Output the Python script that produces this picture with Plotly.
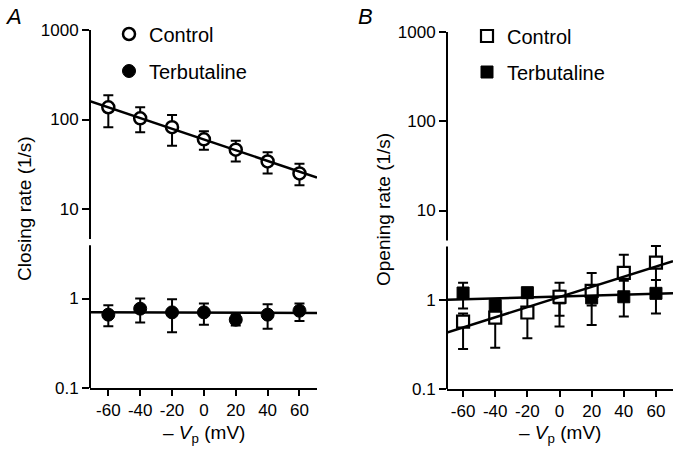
import plotly.graph_objects as go

W, H = 675, 451

# ---------------- data ----------------
vp = [-60, -40, -20, 0, 20, 40, 60]
tick_vals_x = [-60, -40, -20, 0, 20, 40, 60]
tick_text_x = ["-60", "-40", "-20", "0", "20", "40", "60"]
tick_vals_y = [0.1, 1, 10, 100, 1000]
tick_text_y = ["0.1", "1", "10", "100", "1000"]

# Panel A: closing rate
a_ctrl = [137, 103, 82, 60, 46, 34, 25]
a_ctrl_hi = [187, 137, 112, 74, 58, 43, 32]
a_ctrl_lo = [82, 72, 51, 46, 34, 25, 18.4]
a_terb = [0.66, 0.77, 0.70, 0.70, 0.58, 0.66, 0.73]
a_terb_hi = [0.84, 1.0, 0.98, 0.88, 0.66, 0.86, 0.88]
a_terb_lo = [0.49, 0.54, 0.42, 0.51, 0.50, 0.46, 0.56]
a_ctrl_fit_x = [-71.5, 71]
a_ctrl_fit_y = [160, 22.5]
a_terb_fit_x = [-71.5, 71]
a_terb_fit_y = [0.70, 0.69]

# Panel B: opening rate
b_ctrl = [0.57, 0.63, 0.72, 1.08, 1.26, 2.0, 2.6]
b_ctrl_hi = [0.70, 0.97, 1.07, 1.55, 2.0, 3.2, 4.0]
b_ctrl_lo = [0.28, 0.29, 0.37, 0.50, 0.52, 1.0, 1.2]
b_terb = [1.19, 0.86, 1.2, 1.05, 1.05, 1.08, 1.18]
b_terb_hi = [1.55, 0.92, 1.3, 1.26, 1.24, 1.63, 1.66]
b_terb_lo = [0.80, 0.80, 1.1, 0.66, 0.86, 0.65, 0.70]
b_ctrl_fit_x = [-70, 70.6]
b_ctrl_fit_y = [0.43, 2.7]
b_terb_fit_x = [-70, 70.6]
b_terb_fit_y = [1.0, 1.18]

FONT = "Liberation Sans, Arial, Helvetica, sans-serif"


def err(vals, hi, lo):
    return dict(type="data", symmetric=False,
                array=[h - v for v, h in zip(vals, hi)],
                arrayminus=[v - l for v, l in zip(vals, lo)],
                color="black", thickness=2, width=5)


fig = go.Figure()

# ---- panel A ----
fig.add_trace(go.Scatter(x=a_terb_fit_x, y=a_terb_fit_y, mode="lines",
                         line=dict(color="black", width=2.5), showlegend=False,
                         xaxis="x", yaxis="y"))
fig.add_trace(go.Scatter(x=vp, y=a_terb, mode="markers", name="Terbutaline",
                         marker=dict(symbol="circle", size=13, color="black",
                                     line=dict(color="black", width=1)),
                         error_y=err(a_terb, a_terb_hi, a_terb_lo),
                         xaxis="x", yaxis="y", legend="legend2"))
fig.add_trace(go.Scatter(x=vp, y=a_ctrl, mode="markers", name="Control",
                         marker=dict(symbol="circle", size=12, color="white",
                                     line=dict(color="black", width=2.5)),
                         error_y=err(a_ctrl, a_ctrl_hi, a_ctrl_lo),
                         xaxis="x", yaxis="y", legend="legend"))
fig.add_trace(go.Scatter(x=a_ctrl_fit_x, y=a_ctrl_fit_y, mode="lines",
                         line=dict(color="black", width=2.5), showlegend=False,
                         xaxis="x", yaxis="y"))

# ---- panel B ----
fig.add_trace(go.Scatter(x=vp, y=b_terb, mode="markers", name="Terbutaline",
                         marker=dict(symbol="square", size=12, color="black",
                                     line=dict(color="black", width=1)),
                         error_y=err(b_terb, b_terb_hi, b_terb_lo),
                         xaxis="x2", yaxis="y2", legend="legend4"))
fig.add_trace(go.Scatter(x=vp, y=b_ctrl, mode="markers", name="Control",
                         marker=dict(symbol="square", size=12, color="white",
                                     line=dict(color="black", width=2.2)),
                         error_y=err(b_ctrl, b_ctrl_hi, b_ctrl_lo),
                         xaxis="x2", yaxis="y2", legend="legend3"))
fig.add_trace(go.Scatter(x=b_terb_fit_x, y=b_terb_fit_y, mode="lines",
                         line=dict(color="black", width=2.5), showlegend=False,
                         xaxis="x2", yaxis="y2"))
fig.add_trace(go.Scatter(x=b_ctrl_fit_x, y=b_ctrl_fit_y, mode="lines",
                         line=dict(color="black", width=2.5), showlegend=False,
                         xaxis="x2", yaxis="y2"))


def px_x(p):
    return p / W


def px_y(p):
    return 1 - p / H


xaxis_common = dict(showgrid=False, zeroline=False, showline=True, linewidth=2,
                    linecolor="black", ticks="outside", ticklen=6, tickwidth=2,
                    tickcolor="black", tickvals=tick_vals_x, ticktext=tick_text_x,
                    tickfont=dict(family=FONT, size=17, color="black"))
yaxis_common = dict(type="log", range=[-1, 3], showgrid=False, zeroline=False,
                    showline=False, ticks="outside", ticklen=7, tickwidth=2,
                    tickcolor="black", tickvals=tick_vals_y, ticktext=tick_text_y,
                    tickfont=dict(family=FONT, size=17, color="black"))

legend_common = dict(font=dict(family=FONT, size=20, color="black"),
                     bgcolor="rgba(0,0,0,0)", borderwidth=0,
                     xanchor="left", yanchor="middle", itemsizing="trace")

fig.update_layout(
    width=W, height=H,
    margin=dict(l=0, r=0, t=0, b=0, autoexpand=False),
    paper_bgcolor="white", plot_bgcolor="white",
    xaxis=dict(domain=[px_x(90), px_x(317)], range=[-71.5, 71], anchor="y", **xaxis_common),
    yaxis=dict(domain=[px_y(388), px_y(30)], anchor="x", **yaxis_common),
    xaxis2=dict(domain=[px_x(447), px_x(673)], range=[-70, 70.6], anchor="y2", **xaxis_common),
    yaxis2=dict(domain=[px_y(389), px_y(32)], anchor="x2", **yaxis_common),
    legend=dict(x=px_x(109), y=px_y(34), **legend_common),
    legend2=dict(x=px_x(109), y=px_y(71), **legend_common),
    legend3=dict(x=px_x(467), y=px_y(36), **legend_common),
    legend4=dict(x=px_x(467), y=px_y(72), **legend_common),
)

# y-axis lines with a small break
shapes = []
for xr, yr in (("x domain", "y domain"), ("x2 domain", "y2 domain")):
    for y0, y1 in ((0, 0.399), (0.416, 1)):
        shapes.append(dict(type="line", xref=xr, yref=yr, x0=0, x1=0, y0=y0, y1=y1,
                           line=dict(color="black", width=2)))
fig.update_layout(shapes=shapes)

annots = [
    dict(text="<i>A</i>", x=px_x(13), y=px_y(16), size=22),
    dict(text="<i>B</i>", x=px_x(365), y=px_y(16), size=22),
    dict(text="Closing rate (1/s)", x=px_x(25), y=px_y(209), textangle=-90, size=19),
    dict(text="Opening rate (1/s)", x=px_x(384), y=px_y(210), textangle=-90, size=19),
    dict(text="– <i>V</i><sub>p</sub> (mV)", x=px_x(204), y=px_y(434), size=19),
    dict(text="– <i>V</i><sub>p</sub> (mV)", x=px_x(560), y=px_y(434), size=19),
]
for a in annots:
    size = a.pop("size")
    fig.add_annotation(xref="paper", yref="paper", showarrow=False,
                       xanchor="center", yanchor="middle",
                       font=dict(family=FONT, size=size, color="black"), **a)

fig.write_html("out.html", config={"displayModeBar": False},
               post_script="document.body.style.margin='0';document.body.style.padding='0';")
